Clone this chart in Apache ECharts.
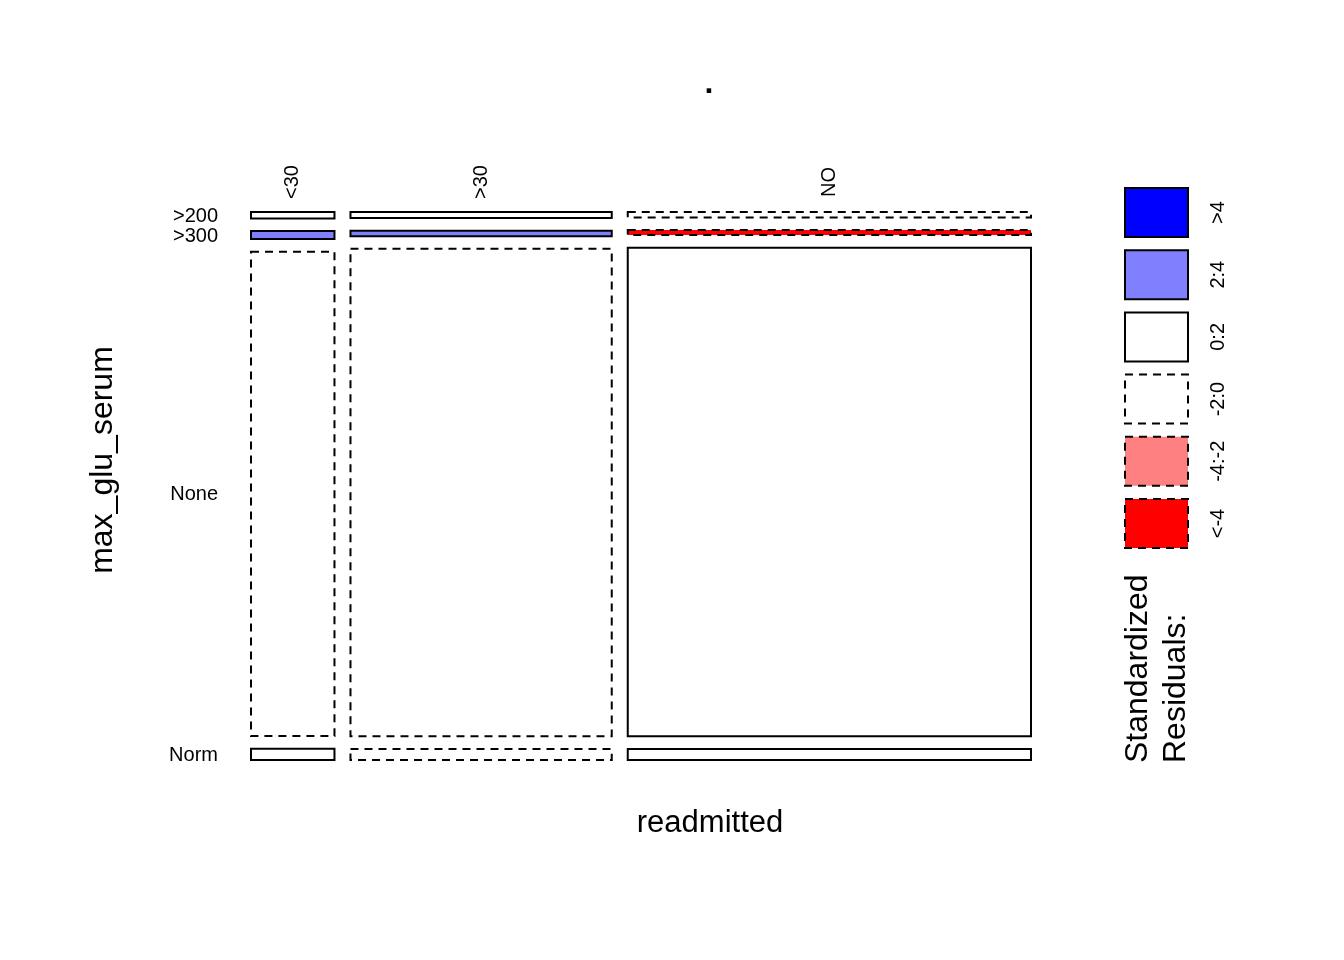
<!DOCTYPE html>
<html>
<head>
<meta charset="utf-8">
<script src="https://cdn.jsdelivr.net/npm/echarts@6/dist/echarts.min.js"></script>
<style>
html,body{margin:0;padding:0;background:#fff;}
#main{width:1344px;height:960px;}
</style>
</head>
<body>
<div id="main"></div>
<script>
// ---- data read from the mosaic ----
const readmitted = ['<30', '>30', 'NO'];               // columns (left to right)
const maxGluSerum = ['>200', '>300', 'None', 'Norm'];   // rows (top to bottom)
// estimated counts per row for each readmitted level
const countsLt30 = [142, 178, 10787, 250];
const countsGt30 = [420, 384, 33973, 768];
const countsNO   = [582, 540, 52557, 1185];
// shading class of standardized residual per cell
const residLt30 = ['0:2', '2:4', '-2:0', '0:2'];
const residGt30 = ['0:2', '2:4', '-2:0', '-2:0'];
const residNO   = ['-2:0', '<-4', '0:2', '0:2'];
// legend levels
const residLevels = ['>4', '2:4', '0:2', '-2:0', '-4:-2', '<-4'];
const residFills = ['#0000FF', '#8080FF', '#FFFFFF', '#FFFFFF', '#FF8080', '#FF0000'];
const residDashed = [false, false, false, true, true, true];

const FONT = '"Liberation Sans", Arial, Helvetica, sans-serif';
const columns = [countsLt30, countsGt30, countsNO];
const resids = [residLt30, residGt30, residNO];

const gx = 0.0214, gy = 0.0248;
const total = columns.reduce((s, c) => s + c.reduce((a, b) => a + b, 0), 0);

const cells = [];
const colCenters = [];
let xs = 0;
columns.forEach((col, ci) => {
  const colTot = col.reduce((a, b) => a + b, 0);
  const w = colTot / total;
  let ys = 0;
  col.forEach((v, ri) => {
    const h = v / colTot;
    const lvl = residLevels.indexOf(resids[ci][ri]);
    cells.push([xs, xs + w, ys, ys + h, lvl, ci, ri]);
    ys += h + gy;
  });
  colCenters.push([xs + w / 2, readmitted[ci]]);
  xs += w + gx;
});
// row label positions follow the first column
const rowCenters = [];
{
  const col = columns[0];
  const colTot = col.reduce((a, b) => a + b, 0);
  let ys = 0;
  col.forEach((v, ri) => {
    const h = v / colTot;
    rowCenters.push([ys + h / 2, maxGluSerum[ri]]);
    ys += h + gy;
  });
}

const chart = echarts.init(document.getElementById('main'), null, {renderer: 'canvas'});

const legendGraphics = [];
residLevels.forEach((lab, i) => {
  const top = 188 + i * 62.2;
  legendGraphics.push({
    type: 'rect', shape: {x: 1125, y: top, width: 63, height: 49},
    style: {fill: residFills[i], stroke: '#000', lineWidth: 2, lineDash: residDashed[i] ? [8, 6] : null}
  });
  legendGraphics.push({
    type: 'text', x: 1218, y: top + 24.5, rotation: Math.PI / 2,
    style: {text: lab, font: '20px ' + FONT, fill: '#000', align: 'center', verticalAlign: 'middle', textAlign: 'center', textVerticalAlign: 'middle'}
  });
});

const option = {
  animation: false,
  backgroundColor: '#ffffff',
  grid: {left: 251, right: 313, top: 212, bottom: 200},
  xAxis: {type: 'value', min: 0, max: 1 + 2 * gx, show: false},
  yAxis: {type: 'value', min: 0, max: 1 + 3 * gy, inverse: true, show: false},
  graphic: [
    {type: 'text', x: 709, y: 84, style: {text: '.', font: 'bold 32px ' + FONT, fill: '#000', align: 'center', verticalAlign: 'middle', textAlign: 'center', textVerticalAlign: 'middle'}},
    {type: 'text', x: 710, y: 823, style: {text: 'readmitted', font: '31px ' + FONT, fill: '#000', align: 'center', verticalAlign: 'middle', textAlign: 'center', textVerticalAlign: 'middle'}},
    {type: 'text', x: 103, y: 460, rotation: Math.PI / 2, style: {text: 'max_glu_serum', font: '32px ' + FONT, fill: '#000', align: 'center', verticalAlign: 'middle', textAlign: 'center', textVerticalAlign: 'middle'}},
    {type: 'text', x: 1138, y: 763, rotation: Math.PI / 2, style: {text: 'Standardized', font: '32px ' + FONT, fill: '#000', align: 'left', verticalAlign: 'middle', textAlign: 'left', textVerticalAlign: 'middle'}},
    {type: 'text', x: 1176, y: 763, rotation: Math.PI / 2, style: {text: 'Residuals:', font: '32px ' + FONT, fill: '#000', align: 'left', verticalAlign: 'middle', textAlign: 'left', textVerticalAlign: 'middle'}}
  ].concat(legendGraphics),
  series: [
    {
      type: 'custom',
      data: cells,
      renderItem: function (params, api) {
        const x0 = api.value(0), x1 = api.value(1), y0 = api.value(2), y1 = api.value(3), lvl = api.value(4);
        const p0 = api.coord([x0, y0]);
        const p1 = api.coord([x1, y1]);
        return {
          type: 'rect',
          shape: {x: Math.min(p0[0], p1[0]), y: Math.min(p0[1], p1[1]), width: Math.abs(p1[0] - p0[0]), height: Math.abs(p1[1] - p0[1])},
          style: {fill: residFills[lvl], stroke: '#000', lineWidth: 2, lineDash: residDashed[lvl] ? [8, 6] : null}
        };
      }
    },
    {
      type: 'custom',
      data: colCenters,
      renderItem: function (params, api) {
        const p = api.coord([api.value(0), 0]);
        return {
          type: 'text', x: p[0], y: p[1] - 30, rotation: Math.PI / 2,
          style: {text: colCenters[params.dataIndex][1], font: '20px ' + FONT, fill: '#000', align: 'center', verticalAlign: 'middle', textAlign: 'center', textVerticalAlign: 'middle'}
        };
      }
    },
    {
      type: 'custom',
      data: rowCenters.map(r => [0, r[0]]),
      renderItem: function (params, api) {
        const p = api.coord([api.value(0), api.value(1)]);
        return {
          type: 'text', x: p[0] - 33, y: p[1] + 1,
          style: {text: rowCenters[params.dataIndex][1], font: '20px ' + FONT, fill: '#000', align: 'right', verticalAlign: 'middle', textAlign: 'right', textVerticalAlign: 'middle'}
        };
      }
    }
  ]
};
chart.setOption(option);
</script>
</body>
</html>
